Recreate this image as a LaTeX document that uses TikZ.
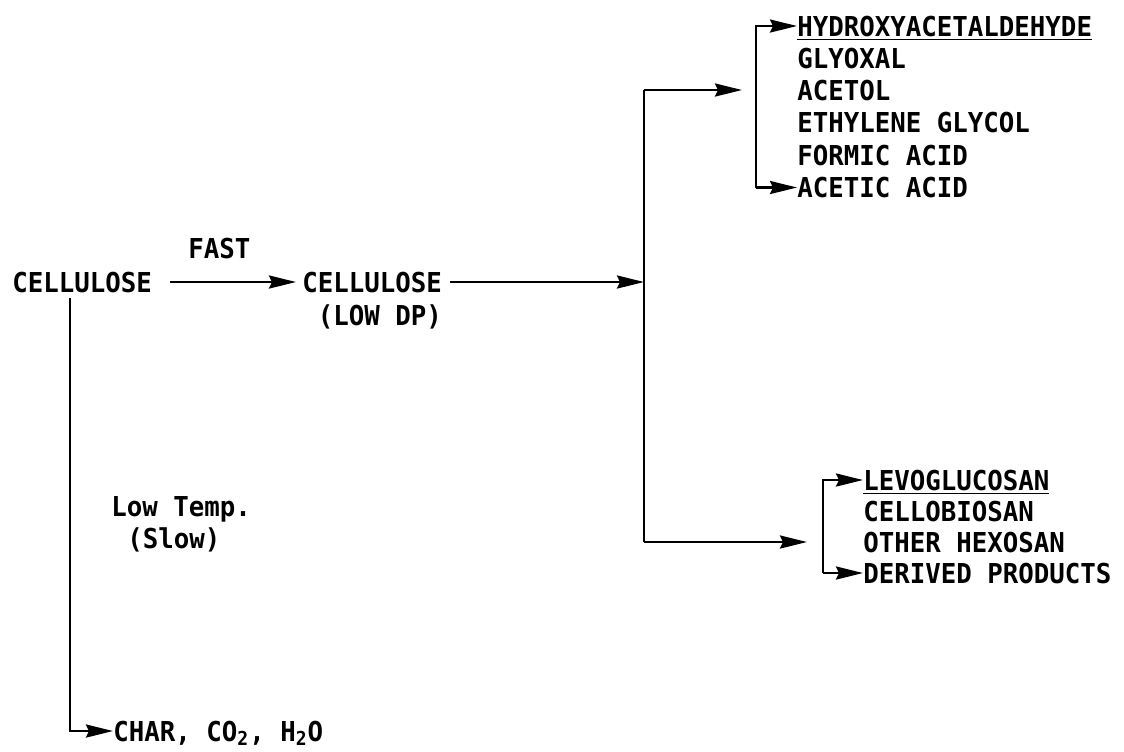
\documentclass[tikz,border=0pt]{standalone}
\usepackage{fontspec}
\setmainfont{DejaVu Sans Mono}[FakeStretch=0.94]
\usetikzlibrary{positioning, arrows.meta}

\tikzset{
  prod/.style={inner sep=0pt, text height=10pt, text depth=0pt, anchor=west},
  arr/.style={-{Stealth[length=13.5pt, width=6.5pt, inset=1.5pt]}, line width=1.4pt},
  trunk/.style={line width=1.4pt},
}

\begin{document}
\begin{tikzpicture}[x=0.5pt, y=-0.5pt, font=\bfseries\fontsize{13.7}{16}\selectfont]
    \useasboundingbox (0,0) rectangle (1124,751);

    % Place the cellulose stages
    \node[prod] (cel) at (12,282) {CELLULOSE};
    \node[prod] (fast) at (188,248) {FAST};
    \node[prod] (celb) at (302,282) {CELLULOSE};
    \node[prod] (lowdp) [below=11.5pt of celb.east, anchor=north east] {(LOW DP)};

    % Place the upper product list
    \node[prod] (h1) at (797,26) {\underline{HYDROXYACETALDEHYDE}};
    \node[prod] (h2) [below=16.15pt of h1.west, anchor=west] {GLYOXAL};
    \node[prod] (h3) [below=16.15pt of h2.west, anchor=west] {ACETOL};
    \node[prod] (h4) [below=16.15pt of h3.west, anchor=west] {ETHYLENE GLYCOL};
    \node[prod] (h5) [below=16.15pt of h4.west, anchor=west] {FORMIC ACID};
    \node[prod] (h6) [below=16.15pt of h5.west, anchor=west] {ACETIC ACID};

    % Place the lower product list
    \node[prod] (l1) at (863,480) {\underline{LEVOGLUCOSAN}};
    \node[prod] (l2) [below=15.5pt of l1.west, anchor=west] {CELLOBIOSAN};
    \node[prod] (l3) [below=15.5pt of l2.west, anchor=west] {OTHER HEXOSAN};
    \node[prod] (l4) [below=15.5pt of l3.west, anchor=west] {DERIVED PRODUCTS};

    % Slow branch
    \node[prod] (temp) at (111,506) {Low Temp.};
    \node[prod] (slow) at (127,538) {(Slow)};
    \node[prod] (char) at (113,731) {CHAR, CO\textsubscript{2}, H\textsubscript{2}O};

    % Trunk and its branches
    \coordinate (up) at (644,90);
    \coordinate (dn) at (l3.west -| up);
    \draw[trunk] (up) -- (dn);
    \draw[arr, shorten <=9pt, shorten >=3pt] (cel.east) -- (celb.west);
    \draw[arr, shorten <=4pt] (celb.east) -- (celb.east -| up);
    \draw[arr, shorten >=7pt] (up) -- ([xshift=-20.5pt]h1.west |- up);
    \draw[arr, shorten >=8pt] (dn) -- ([xshift=-20pt]l3.west);

    % Brackets
    \draw[arr] ([xshift=-20.5pt]h6.west) -- ([xshift=-20.5pt]h1.west) -- (h1.west);
    \draw[arr] ([xshift=-20.5pt]h6.west) -- (h6.west);
    \draw[arr] ([xshift=-20pt]l4.west) -- ([xshift=-20pt]l1.west) -- (l1.west);
    \draw[arr] ([xshift=-20pt]l4.west) -- (l4.west);
    \draw[arr] ([shift={(29pt,-3pt)}]cel.south west) |- (char.west);
\end{tikzpicture}
\end{document}
